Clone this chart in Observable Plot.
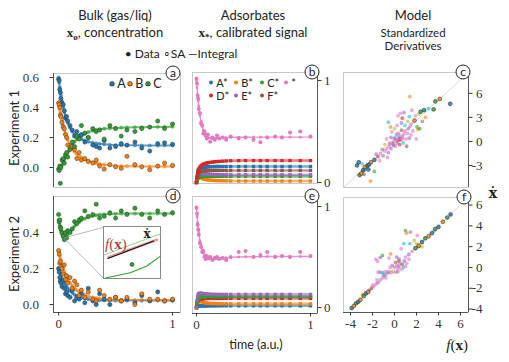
<!DOCTYPE html>
<html><head><meta charset="utf-8">
<script src="https://cdn.jsdelivr.net/npm/d3@7"></script>
<script src="https://cdn.jsdelivr.net/npm/@observablehq/plot@0.6"></script>
<style>
body{margin:0;background:#fff;}
#wrap{position:relative;width:509px;height:362px;overflow:hidden;font-family:Lato,sans-serif;color:#222;}
#wrap svg{position:absolute;left:0;top:0;}
.t{position:absolute;white-space:nowrap;transform:translate(-50%,-50%);line-height:1;}
.sv{font-family:'Liberation Serif',serif;font-weight:bold;}
.sub{font-size:70%;vertical-align:-0.3em;}
.ld{display:inline-block;width:4.4px;height:4.4px;border-radius:50%;vertical-align:middle;margin-right:3px;position:relative;top:-1px;}
.li{display:inline-block;}
</style></head><body><div id="wrap"></div>
<script>
// ---------- data ----------
const pal = ["#1f77b4","#ff7f0e","#2ca02c","#d62728","#9467bd","#8c564b","#e377c2","#7f7f7f","#bcbd22","#17becf","#1f77b4","#ff7f0e","#2ca02c"];

// bulk panels (a, d)
const tD = [0,0.005,0.01,0.015,0.02,0.03,0.04,0.05,0.06,0.07,0.08,0.1,0.12,0.14,0.16,0.18,0.2,0.23,0.26,0.3,0.33,0.36,0.4,0.45,0.5,0.55,0.6,0.67,0.73,0.8,0.87,0.93,1.0];
const aFitA = [0.6,0.565,0.535,0.505,0.48,0.44,0.405,0.37,0.345,0.32,0.3,0.265,0.24,0.222,0.208,0.198,0.19,0.18,0.172,0.165,0.161,0.158,0.155,0.152,0.15,0.149,0.148,0.148,0.147,0.147,0.147,0.147,0.147];
const aFitB = [0.435,0.41,0.39,0.37,0.35,0.315,0.28,0.25,0.225,0.205,0.185,0.15,0.125,0.105,0.09,0.077,0.067,0.055,0.045,0.035,0.029,0.024,0.019,0.015,0.012,0.01,0.009,0.008,0.007,0.007,0.007,0.007,0.007];
const aFitC = [-0.015,-0.012,-0.008,-0.003,0.003,0.017,0.035,0.055,0.07,0.085,0.1,0.128,0.15,0.172,0.188,0.2,0.212,0.225,0.236,0.246,0.251,0.255,0.259,0.262,0.264,0.266,0.267,0.268,0.269,0.27,0.271,0.271,0.272];
const aDatA = [0.59,0.58,0.52,0.5,0.46,0.43,0.42,0.38,0.33,0.34,0.31,0.28,0.25,0.21,0.24,0.21,0.22,0.17,0.2,0.15,0.14,0.13,0.18,0.13,0.14,0.16,0.15,0.17,0.13,0.11,0.16,0.165,0.155];
const aDatB = [0.43,0.42,0.4,0.35,0.34,0.3,0.27,0.26,0.22,0.2,0.15,0.13,0.14,0.12,0.06,0.1,0.05,0.06,0.04,0.03,0.05,0.01,-0.01,0.02,0.005,-0.005,0.075,0.02,0.005,-0.015,0.01,0.03,0.015];
const aDatC = [-0.01,-0.02,0.01,-0.105,0.0,0.05,0.06,0.03,0.085,0.1,0.07,0.12,0.17,0.14,0.21,0.19,0.28,0.23,0.2,0.26,0.24,0.25,0.19,0.28,0.26,0.21,0.25,0.24,0.26,0.27,0.31,0.26,0.29];
const dFitA = [0.2,0.19,0.18,0.17,0.16,0.145,0.13,0.118,0.108,0.098,0.09,0.076,0.065,0.055,0.048,0.043,0.038,0.033,0.03,0.027,0.025,0.024,0.023,0.022,0.022,0.022,0.022,0.022,0.022,0.022,0.022,0.022,0.022];
const dFitB = [0.3,0.285,0.27,0.255,0.24,0.218,0.2,0.183,0.168,0.155,0.143,0.122,0.105,0.09,0.08,0.07,0.063,0.054,0.047,0.04,0.036,0.033,0.03,0.028,0.027,0.026,0.025,0.025,0.025,0.025,0.025,0.025,0.025];
const dFitC = [0.47,0.455,0.44,0.425,0.41,0.39,0.378,0.372,0.375,0.382,0.39,0.405,0.42,0.435,0.447,0.458,0.467,0.477,0.485,0.492,0.496,0.499,0.501,0.503,0.504,0.505,0.505,0.505,0.505,0.505,0.505,0.505,0.505];
const dDatA = [0.2,0.18,0.15,0.13,0.12,0.1,0.13,0.09,0.06,0.07,0.05,0.04,0.08,0.02,0.04,0.03,0.06,0.01,0.09,0.02,0.0,0.06,0.03,0.0,0.04,0.02,0.03,0.01,0.05,0.02,0.07,0.02,0.025];
const dDatB = [0.3,0.28,0.23,0.24,0.21,0.2,0.17,0.22,0.14,0.16,0.12,0.15,0.09,0.13,0.11,0.05,0.08,0.04,0.07,0.03,0.02,0.08,0.05,0.03,0.04,0.02,0.04,0.0,0.06,0.03,0.03,0.02,0.03];
const dDatC = [0.5,0.46,0.47,0.43,0.42,0.4,0.38,0.36,0.4,0.37,0.41,0.4,0.42,0.46,0.45,0.47,0.48,0.52,0.49,0.5,0.557,0.48,0.49,0.51,0.48,0.52,0.5,0.535,0.5,0.48,0.52,0.5,0.51];

// adsorbate panels (b, e)
const tB = [0,0.005,0.01,0.015,0.02,0.03,0.04,0.05,0.06,0.07,0.08,0.09,0.1,0.12,0.14,0.16,0.18,0.2,0.23,0.26,0.3,0.37,0.43,0.5,0.56,0.62,0.69,0.75,0.82,0.91,1.0];
const bStar = [1.0,0.93,0.86,0.8,0.75,0.66,0.6,0.55,0.51,0.49,0.47,0.455,0.445,0.435,0.432,0.432,0.434,0.436,0.438,0.44,0.442,0.443,0.444,0.445,0.445,0.445,0.445,0.445,0.445,0.445,0.445];
const bStarDat = [1.02,0.97,0.85,0.82,0.72,0.68,0.58,0.56,0.48,0.5,0.46,0.43,0.47,0.4,0.44,0.42,0.46,0.43,0.44,0.42,0.45,0.43,0.44,0.42,0.395,0.44,0.45,0.44,0.49,0.5,0.45];
const bA = [0,0.06,0.1,0.12,0.13,0.14,0.145,0.148,0.15,0.151,0.152,0.153,0.154,0.155,0.156,0.156,0.157,0.157,0.157,0.157,0.157,0.157,0.157,0.157,0.157,0.157,0.157,0.157,0.157,0.157,0.157];
const bB = [0,0.04,0.055,0.058,0.056,0.05,0.045,0.04,0.036,0.033,0.03,0.028,0.026,0.023,0.021,0.02,0.019,0.018,0.017,0.016,0.015,0.014,0.014,0.014,0.014,0.014,0.014,0.014,0.014,0.014,0.014];
const bC = [0,0.02,0.035,0.045,0.05,0.055,0.057,0.058,0.059,0.06,0.06,0.06,0.06,0.06,0.06,0.06,0.06,0.06,0.06,0.06,0.06,0.06,0.06,0.06,0.06,0.06,0.06,0.06,0.06,0.06,0.06];
const bD = [0,0.05,0.09,0.115,0.13,0.15,0.163,0.172,0.178,0.183,0.187,0.19,0.193,0.197,0.2,0.203,0.205,0.207,0.209,0.211,0.213,0.214,0.215,0.215,0.215,0.215,0.215,0.215,0.215,0.215,0.215];
const bE = [0,0.05,0.075,0.085,0.09,0.092,0.091,0.089,0.087,0.085,0.084,0.083,0.082,0.08,0.079,0.078,0.077,0.077,0.076,0.076,0.075,0.075,0.075,0.075,0.075,0.075,0.075,0.075,0.075,0.075,0.075];
const bF = [0,0.04,0.07,0.085,0.095,0.105,0.11,0.113,0.115,0.116,0.117,0.117,0.118,0.118,0.118,0.118,0.118,0.118,0.118,0.118,0.118,0.118,0.118,0.118,0.118,0.118,0.118,0.118,0.118,0.118,0.118];
const eStar = [0.98,0.9,0.84,0.78,0.74,0.66,0.62,0.57,0.54,0.52,0.5,0.49,0.485,0.48,0.48,0.482,0.485,0.488,0.49,0.493,0.496,0.5,0.502,0.503,0.504,0.505,0.505,0.505,0.505,0.505,0.505];
const eStarDat = [0.99,0.93,0.82,0.77,0.72,0.64,0.6,0.55,0.56,0.5,0.48,0.51,0.49,0.5,0.47,0.49,0.5,0.48,0.49,0.47,0.5,0.55,0.56,0.5,0.52,0.55,0.5,0.51,0.5,0.55,0.51];
const eA = [0,0.008,0.012,0.014,0.015,0.016,0.017,0.017,0.017,0.017,0.017,0.017,0.017,0.017,0.017,0.017,0.017,0.017,0.017,0.017,0.017,0.017,0.017,0.017,0.017,0.017,0.017,0.017,0.017,0.017,0.017];
const eB = [0,0.04,0.06,0.066,0.066,0.062,0.058,0.054,0.051,0.048,0.046,0.044,0.043,0.041,0.04,0.039,0.038,0.038,0.037,0.037,0.036,0.036,0.036,0.036,0.036,0.036,0.036,0.036,0.036,0.036,0.036];
const eC = [0,0.04,0.07,0.085,0.093,0.1,0.104,0.106,0.108,0.109,0.11,0.11,0.11,0.11,0.11,0.11,0.11,0.11,0.11,0.11,0.11,0.11,0.11,0.11,0.11,0.11,0.11,0.11,0.11,0.11,0.11];
const eD = [0,0.03,0.055,0.068,0.075,0.082,0.085,0.087,0.088,0.089,0.09,0.09,0.09,0.09,0.09,0.09,0.09,0.09,0.09,0.09,0.09,0.09,0.09,0.09,0.09,0.09,0.09,0.09,0.09,0.09,0.09];
const eE = [0,0.07,0.11,0.13,0.138,0.142,0.142,0.14,0.138,0.136,0.135,0.134,0.133,0.132,0.131,0.131,0.13,0.13,0.13,0.13,0.13,0.13,0.13,0.13,0.13,0.13,0.13,0.13,0.13,0.13,0.13];
const eF = [0,0.05,0.08,0.092,0.098,0.102,0.104,0.105,0.105,0.105,0.105,0.105,0.105,0.105,0.105,0.105,0.105,0.105,0.105,0.105,0.105,0.105,0.105,0.105,0.105,0.105,0.105,0.105,0.105,0.105,0.105];

// model panels (c, f): f(x) vs xdot, series index s
const cX = [-4.2,-4.0,-3.9,-3.7,-3.5,-3.3,-3.0,-2.9,-3.6,-3.2,-2.6,-2.2,-2.65,-2.2,-3.4,-1.8,-1.5,-1.2,-1.0,-0.8,-1.3,-0.6,-0.5,-1.0,-0.7,-1.6,-2.0,0.0,0.2,0.4,0.6,0.8,0.3,0.5,1.0,1.2,0.7,1.4,-0.3,-0.2,0.1,0.9,1.6,1.8,2.0,1.1,0.2,-0.1,0.5,0.4,0.9,1.3,1.6,2.0,2.4,2.7,2.8,2.5,1.8,1.2,0.8,2.1,2.9,3.1,3.66,3.3,1.0,-0.35,-0.8,-0.3,2.2,1.7,3.0,2.6,1.5,-0.6,4.6,4.8,5.3,6.5,4.0,3.5,1.86,0.5,-2.84,-3.4,0.1,0.6,-0.4,1.3,0.3,0.7,-0.5,1.9,0.0,1.0];
const cY = [-3.0,-2.6,-4.2,-4.0,-3.6,-3.2,-3.0,-3.5,-2.8,-3.3,-2.6,-2.3,-4.95,-3.75,-4.1,-1.9,-1.5,-1.8,-1.2,-0.9,-1.0,-1.4,-0.6,-0.4,-2.0,-2.4,-1.6,0.0,0.3,-0.2,0.5,0.2,0.8,1.0,0.6,0.9,-0.4,0.3,0.5,1.2,1.6,1.4,1.0,0.4,0.8,-0.2,-0.6,-0.3,0.1,2.0,2.3,2.0,2.5,2.2,2.6,1.8,1.5,3.2,3.1,3.6,3.5,3.9,3.4,3.7,3.0,2.5,2.9,1.8,0.3,-0.9,1.3,1.6,1.6,0.3,-0.6,2.4,4.0,5.0,5.3,4.7,4.1,3.9,5.6,3.2,-2.9,-3.6,0.4,0.9,-0.2,1.3,0.1,0.4,-0.3,1.9,-0.5,0.3];
const cS = [0,0,2,1,0,1,2,0,9,9,1,0,11,12,5,3,6,4,6,6,7,4,6,8,6,6,4,6,6,4,6,3,9,6,4,6,3,6,4,6,8,5,6,4,6,9,6,5,3,6,4,9,8,6,1,12,11,6,9,4,6,6,8,2,11,7,3,11,6,4,6,4,12,6,5,9,2,2,1,0,9,0,11,6,0,10,4,6,6,6,6,4,6,6,4,6];
const fX = [-3.9,-3.7,-3.5,-3.3,-3.1,-2.8,-2.6,-2.4,-2.1,-1.9,-1.7,-1.5,-1.3,-1.1,-0.9,-0.7,1.0,1.3,1.6,1.9,2.2,2.5,2.8,3.1,3.4,3.7,4.0,4.4,4.8,5.1,3.6,2.0,-1.7,-1.55,-1.1,-1.3,-0.36,0.85,1.0,1.1,1.45,2.06,1.4,2.2,1.8,0.6,0.2,-0.5,0.4,2.5,-1.5,-1.3,-1.1,-0.9,-0.7,-0.5,-0.3,-0.1,0.1,0.3,0,0.2,0.4,0.5,0.7,0.3,-0.2,0.6,0.9,1.1,0.8,-0.4,1.3,0.1,1.0,0.4,-2.0,-2.3,-2.9,-1.6,-1.0,-0.8];
const fY = [-3.9,-3.7,-3.45,-3.3,-3.1,-2.75,-2.5,-2.35,-2.0,-1.8,-1.6,-1.45,-1.2,-1.0,-0.8,-0.6,1.0,1.25,1.55,1.85,2.1,2.45,2.8,3.0,3.3,3.7,3.9,4.4,4.8,5.1,3.5,2.3,0.8,0.6,1.15,0.95,1.3,2.3,3.55,3.3,3.4,3.08,2.3,2.0,2.6,1.8,1.0,0.9,0.6,2.0,-0.45,-0.45,-0.5,-0.45,-0.4,-0.45,-0.5,-0.4,-0.45,-0.4,0,0.2,0.1,0.4,0.3,-0.1,0.2,-0.2,0.6,0.4,0.0,0.0,0.8,0.5,0.1,0.8,-1.7,-2.2,-2.6,-1.2,-0.7,-1.0];
const fS = [0,1,2,0,1,2,0,1,3,6,6,4,6,6,4,6,6,4,6,2,1,0,2,1,0,2,0,1,2,0,9,8,6,6,12,4,11,9,12,11,4,6,9,12,8,6,4,6,5,8,6,4,9,6,6,4,6,8,6,4,6,6,4,6,5,6,4,6,4,6,9,6,6,5,6,4,6,10,11,6,9,6];
const diag = [-7,10];

// inset (zoom of panel d), local 0..1 coords
const inUpX = [0.005,0.5,1], inUpY = [0.45,0.655,0.86];
const inLoX = [0.035,0.47,0.76,1], inLoY = [0.01,0.11,0.24,0.43];
const inRedX = [0.09,0.94], inRedY = [0.41,0.745];
const inBlkX = [0.075,0.88], inBlkY = [0.385,0.72];
const inDotX = [0.5], inDotY = [0.27];
const zoomFromT = [0.045,0.045], zoomFromV = [0.37,0.37], zoomToT = [0.392,0.392], zoomToV = [0.428,0.147];

// legends
const legA = [["A",pal[0]],["B",pal[1]],["C",pal[2]]];
const legB1 = [["A*",pal[0]],["B*",pal[1]],["C*",pal[2]],["*",pal[6]]];
const legB2 = [["D*",pal[3]],["E*",pal[4]],["F*",pal[5]]];

// ---------- helpers ----------
const W = 509, H = 362;
const wrap = document.getElementById("wrap");
function rows(t, list){ const out=[]; for(const s of list) t.forEach((tt,i)=>out.push({t:tt, v:s.v[i], c:s.c, k:s.k})); return out; }
function mk(rect, x, y, marks){
  const svg = Plot.plot({width:W, height:H, marginLeft:rect[0], marginRight:W-rect[1], marginTop:rect[2], marginBottom:H-rect[3],
    x:{...x, axis:null}, y:{...y, axis:null}, color:{type:"identity"},
    style:{background:"transparent", overflow:"visible", fontFamily:"'Liberation Serif', serif", fontSize:"13px", color:"#333"}, marks});
  wrap.appendChild(svg);
}
function txt(html, x, y, css){ const d=document.createElement("div"); d.className="t"; d.innerHTML=html; d.style.left=x+"px"; d.style.top=y+"px"; Object.assign(d.style, css||{}); wrap.appendChild(d); return d; }
function letter(ch, x, y){ txt(ch, x, y, {width:"13px", height:"13px", border:"1px solid #222", borderRadius:"50%", background:"#fff", textAlign:"center", lineHeight:"12px", fontSize:"12px", boxSizing:"content-box"}); }
function legRow(items, widths, edge){
  return items.map((it,i)=>'<span class="li" style="width:'+widths[i]+'px"><span class="ld" style="background:'+it[1]+';'+(edge?'box-shadow:0 0 0 0.6px #333;':'')+'"></span>'+it[0]+'</span>').join("");
}
const frame = Plot.frame({stroke:"#c8c8c8"});

// ---------- panel a ----------
{
  const xd=[-0.045,1.07], yd=[-0.133,0.627];
  const fit = rows(tD,[{k:"A",c:pal[0],v:aFitA},{k:"B",c:pal[1],v:aFitB},{k:"C",c:pal[2],v:aFitC}]);
  const dat = rows(tD,[{k:"A",c:pal[0],v:aDatA},{k:"B",c:pal[1],v:aDatB},{k:"C",c:pal[2],v:aDatC}]);
  mk([53,180,73,187],{domain:xd},{domain:yd},[
    frame, Plot.ruleX([xd[0]],{stroke:"#555"}),
    Plot.axisY({anchor:"left", ticks:[0,0.2,0.4,0.6], tickFormat:d3.format(".1f"), tickSize:3.5, tickPadding:11, label:null}),
    Plot.line(fit,{x:"t",y:"v",z:"k",stroke:"c",strokeWidth:2,strokeOpacity:0.7}),
    Plot.dot(fit,{x:"t",y:"v",fill:"c",stroke:"c",r:1.6,fillOpacity:0.5,strokeWidth:0.5}),
    Plot.dot(dat,{x:"t",y:"v",fill:"c",stroke:"#333",r:2.1,strokeWidth:0.5})
  ]);
}
// ---------- panel d ----------
{
  const xd=[-0.045,1.07], yd=[-0.044,0.6];
  const fit = rows(tD,[{k:"A",c:pal[0],v:dFitA},{k:"B",c:pal[1],v:dFitB},{k:"C",c:pal[2],v:dFitC}]);
  const dat = rows(tD,[{k:"A",c:pal[0],v:dDatA},{k:"B",c:pal[1],v:dDatB},{k:"C",c:pal[2],v:dDatC}]);
  mk([53,180,196,312],{domain:xd},{domain:yd},[
    frame, Plot.ruleX([xd[0]],{stroke:"#555"}), Plot.ruleY([yd[0]],{stroke:"#555"}),
    Plot.axisY({anchor:"left", ticks:[0,0.2,0.4], tickFormat:d3.format(".1f"), tickSize:3.5, tickPadding:11, label:null}),
    Plot.axisX({anchor:"bottom", ticks:[0,1], tickFormat:d=>String(d), tickSize:3.5, tickPadding:3, label:null}),
    Plot.line(fit,{x:"t",y:"v",z:"k",stroke:"c",strokeWidth:2,strokeOpacity:0.7}),
    Plot.dot(fit,{x:"t",y:"v",fill:"c",stroke:"c",r:1.6,fillOpacity:0.5,strokeWidth:0.5}),
    Plot.dot(dat,{x:"t",y:"v",fill:"c",stroke:"#333",r:2.1,strokeWidth:0.5}),
    Plot.link([0,1],{x1:zoomFromT, y1:zoomFromV, x2:zoomToT, y2:zoomToV, stroke:"#999", strokeWidth:0.7})
  ]);
}
// ---------- inset ----------
mk([103,160,226,278],{domain:[0,1]},{domain:[0,1]},[
  Plot.frame({fill:"#fff", stroke:"#888"}),
  Plot.line(inUpX.map((x,i)=>[x,inUpY[i]]),{stroke:"#8fd18f",strokeWidth:1}),
  Plot.line(inLoX.map((x,i)=>[x,inLoY[i]]),{stroke:"#2ca02c",strokeWidth:1.1}),
  Plot.line(inRedX.map((x,i)=>[x,inRedY[i]]),{stroke:"#e39a9a",strokeWidth:2.6}),
  Plot.line(inBlkX.map((x,i)=>[x,inBlkY[i]]),{stroke:"#111",strokeWidth:1.1}),
  Plot.dot(inDotX.map((x,i)=>[x,inDotY[i]]),{fill:"#2ca02c",stroke:"#333",r:2,strokeWidth:0.6})
]);
// ---------- panels b, e ----------
function adsorb(rect, yd, ticksY, star, starDat, list, bottom){
  const xd=[-0.035,1.061];
  const fit = rows(tB, list);
  const sfit = rows(tB,[{k:"*",c:pal[6],v:star}]);
  const sdat = rows(tB,[{k:"*",c:pal[6],v:starDat}]);
  const marks = [frame, Plot.ruleX([xd[1]],{stroke:"#555"}),
    Plot.axisY({anchor:"right", ticks:ticksY, tickFormat:d=>String(d), tickSize:3.5, tickPadding:9.5, textAnchor:"end", label:null}),
    Plot.line(fit,{x:"t",y:"v",z:"k",stroke:"c",strokeWidth:2.6,strokeOpacity:0.6}),
    Plot.dot(fit,{x:"t",y:"v",fill:"c",r:1.9,symbol:"square"}),
    Plot.line(sfit,{x:"t",y:"v",stroke:"c",strokeWidth:1.4,strokeOpacity:0.8}),
    Plot.dot(sfit,{x:"t",y:"v",fill:"c",r:1.5,symbol:"square",fillOpacity:0.8}),
    Plot.dot(sdat,{x:"t",y:"v",fill:"c",r:2})];
  if(bottom){ marks.push(Plot.ruleY([yd[0]],{stroke:"#555"}), Plot.axisX({anchor:"bottom", ticks:[0,1], tickFormat:d=>String(d), tickSize:3.5, tickPadding:3, label:null})); }
  mk(rect,{domain:xd},{domain:yd},marks);
}
adsorb([192,317,72,183],[-0.01,1.078],[0,1],bStar,bStarDat,[
  {k:"A*",c:pal[0],v:bA},{k:"B*",c:pal[1],v:bB},{k:"C*",c:pal[2],v:bC},{k:"E*",c:pal[4],v:bE},{k:"F*",c:pal[5],v:bF},{k:"D*",c:pal[3],v:bD}], false);
adsorb([192,317,196,313],[-0.059,1.099],[0,1],eStar,eStarDat,[
  {k:"A*",c:pal[0],v:eA},{k:"B*",c:pal[1],v:eB},{k:"D*",c:pal[3],v:eD},{k:"F*",c:pal[5],v:eF},{k:"C*",c:pal[2],v:eC},{k:"E*",c:pal[4],v:eE}], true);
// ---------- panels c, f ----------
function model(rect, xd, yd, ticksY, X, Y, S, bottom){
  const pts = X.map((x,i)=>({x, y:Y[i], c:pal[S[i]], e:S[i]<3}));
  const marks = [frame, Plot.ruleX([xd[1]],{stroke:"#555"}),
    Plot.line(diag.map(d=>[d,d]),{stroke:"#d8d8d8",strokeWidth:1,clip:true}),
    Plot.axisY({anchor:"right", ticks:ticksY, tickFormat:d=>String(d), tickSize:3.5, tickPadding:10.5, textAnchor:"end", label:null}),
    Plot.dot(pts.filter(d=>!d.e),{x:"x",y:"y",fill:"c",r:1.9,fillOpacity:0.6}),
    Plot.dot(pts.filter(d=>d.e),{x:"x",y:"y",fill:"c",r:1.9,fillOpacity:0.8,stroke:"#333",strokeWidth:0.6})];
  if(bottom){ marks.push(Plot.ruleY([yd[0]],{stroke:"#555"}), Plot.axisX({anchor:"bottom", ticks:[-4,-2,0,2,4,6], tickFormat:d=>String(d), tickSize:3.5, tickPadding:3, label:null})); }
  mk(rect,{domain:xd},{domain:yd},marks);
}
model([343,468,72,187],[-5.75,8.6],[-5.75,8.6],[-3,0,3,6],cX,cY,cS,false);
model([343,468,197,312],[-4.64,6.73],[-4.33,6.73],[-4,-2,0,2,4,6],fX,fY,fS,true);

// ---------- text ----------
txt("Bulk (gas/liq)",115,15,{fontSize:"13px"});
txt('<span class="sv">x<span class="sub">o</span></span>, concentration',115,34,{fontSize:"13px"});
txt("Adsorbates",253,15,{fontSize:"13px"});
txt('<span class="sv">x<span class="sub">*</span></span>, calibrated signal',253,34,{fontSize:"13px"});
txt("Model",413,15,{fontSize:"13px"});
txt("Standardized<br>Derivatives",413,38.5,{fontSize:"11.5px",lineHeight:"13px",textAlign:"center"});
txt("\u2022 Data \u2218SA \u2014Integral",181,54,{fontSize:"12px"});
txt("Experiment 1",14,128,{fontSize:"13px",transform:"translate(-50%,-50%) rotate(-90deg)"});
txt("Experiment 2",14,254,{fontSize:"13px",transform:"translate(-50%,-50%) rotate(-90deg)"});
txt("time (a.u.)",256,345,{fontSize:"12.5px"});
txt('<i>f</i>(<span class="sv" style="font-weight:bold">x</span>)',468,345,{fontFamily:"'Liberation Serif',serif",fontSize:"15px",transform:"translate(-100%,-50%)"});
txt("\u1E8B",493,193,{fontFamily:"'DejaVu Serif',serif",fontWeight:"bold",fontSize:"14px"});
txt('<i>f</i>(<b>x</b>)',105,244,{fontFamily:"'Liberation Serif',serif",fontSize:"15px",color:"#b03a44",transform:"translate(0,-50%)"});
txt("\u1E8B",147,234,{fontFamily:"'DejaVu Serif',serif",fontWeight:"bold",fontSize:"12px"});
txt(legRow(legA,[18,18,14],true),109.8,84,{fontSize:"12.5px",transform:"translate(0,-50%)"});
txt(legRow(legB1,[25,26,24,10],false),208.8,82,{fontSize:"11px",transform:"translate(0,-50%)"});
txt(legRow(legB2,[25,26,24],false),208.8,95,{fontSize:"11px",transform:"translate(0,-50%)"});
letter("a",173,73); letter("b",312,72); letter("c",463,72);
letter("d",173,196); letter("e",312,196); letter("f",464,197);
</script></body></html>
